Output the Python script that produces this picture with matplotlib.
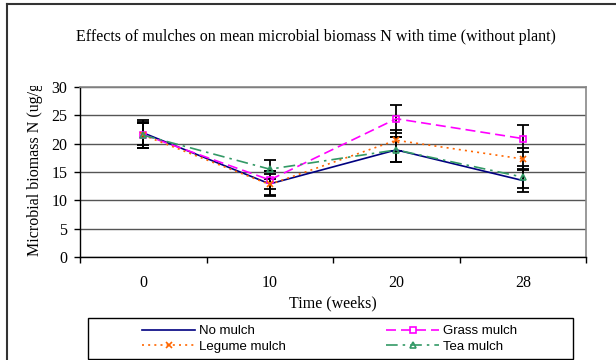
import matplotlib
matplotlib.use("Agg")
import matplotlib.pyplot as plt
from matplotlib.lines import Line2D
from matplotlib.patches import Rectangle
from matplotlib.transforms import Bbox, TransformedBbox

weeks = ["0", "10", "20", "28"]
no_mulch = [21.9, 12.9, 18.9, 13.5]
grass = [21.6, 13.6, 24.4, 20.9]
legume = [21.5, 12.8, 20.6, 17.3]
tea = [21.5, 15.5, 18.9, 14.1]
no_mulch_err = [2.2, 2.2, 2.2, 2.1]
grass_err = [2.3, 1.6, 2.5, 2.4]
legume_err = [2.2, 1.9, 1.9, 1.9]
tea_err = [2.2, 1.7, 2.2, 1.9]
yticks = [0, 5, 10, 15, 20, 25, 30]

serif = "Liberation Serif"
sans = "Liberation Sans"

fig = plt.figure(figsize=(6.16, 3.6), dpi=100)
ax = fig.add_axes([80/616, 1-257/360, 506/616, 170/360])

x = list(range(len(weeks)))
series = [
    ("No mulch", no_mulch, no_mulch_err, "#000080", "-", None, None),
    ("Grass mulch", grass, grass_err, "#FF00FF", (0, (6, 3)), "s", "none"),
    ("Legume mulch", legume, legume_err, "#FF6600", (0, (1.2, 2.5)), "x", None),
    ("Tea mulch", tea, tea_err, "#339966", (0, (7, 3, 1.5, 3)), "^", "none"),
]
handles = {}
for name, vals, err, col, ls, mk, mfc in series:
    ax.errorbar(x, vals, yerr=err, fmt="none", ecolor="black", elinewidth=1.3,
                capsize=4, capthick=1.3, zorder=3)
for name, vals, err, col, ls, mk, mfc in series:
    kw = dict(color=col, linestyle=ls, linewidth=1.2, zorder=4)
    if mk:
        kw.update(marker=mk, markersize=5, markeredgecolor=col, markeredgewidth=1.2)
        if mfc:
            kw.update(markerfacecolor=mfc)
    ax.plot(x, vals, **kw)
    handles[name] = Line2D([], [], **kw)

ax.set_xlim(-0.5, len(weeks) - 0.5)
ax.set_ylim(0, 30)
ax.set_yticks(yticks)
ax.set_yticklabels([str(v) for v in yticks], fontfamily=serif, fontsize=11.5)
ax.set_xticks(x)
ax.set_xticklabels(weeks, fontfamily=serif, fontsize=11.5)
ax.set_xticks([i - 0.5 for i in range(len(weeks) + 1)], minor=True)
ax.tick_params(axis="x", which="major", length=0, pad=13)
ax.tick_params(axis="x", which="minor", length=4, width=1, direction="out")
ax.tick_params(axis="y", length=4, width=1, direction="out", pad=5)
ax.yaxis.grid(True, color="#555555", linewidth=1.0)
ax.set_axisbelow(True)
for s in ["top", "right"]:
    ax.spines[s].set_color("#888888")
    ax.spines[s].set_linewidth(1.2)
for s in ["left", "bottom"]:
    ax.spines[s].set_color("black")
    ax.spines[s].set_linewidth(1.0)

ax.set_xlabel("Time (weeks)", fontfamily=serif, fontsize=11.5, labelpad=3)
yl = fig.text(35/616, 1-167/360, "Microbial biomass N (ug/g)", rotation=90,
              fontfamily=serif, fontsize=11.5, ha="center", va="center")
yl.set_clip_box(TransformedBbox(Bbox([[0, 0], [80/616, 1-86/360]]), fig.transFigure))
yl.set_clip_on(True)
fig.text(316/616, 1-37/360,
         "Effects of mulches on mean microbial biomass N with time (without plant)",
         fontfamily=serif, fontsize=11.5, ha="center", va="center")

# outer frame
fig.add_artist(Line2D([7/616, 7/616], [0, 1-4/360], transform=fig.transFigure,
                      color="#333333", linewidth=1.5))
fig.add_artist(Line2D([7/616, 1], [1-4/360, 1-4/360], transform=fig.transFigure,
                      color="#333333", linewidth=1.5))

# legend box
fig.add_artist(Rectangle((88/616, 1/360), 485/616, 41/360, transform=fig.transFigure,
                         fill=False, edgecolor="black", linewidth=1.0))
order = ["No mulch", "Legume mulch", "Grass mulch", "Tea mulch"]
fig.legend(handles=[handles[n] for n in order], labels=order, ncol=2,
           loc="upper left", bbox_to_anchor=(133/616, 1-316/360),
           frameon=False, prop={"family": sans, "size": 9.5},
           handlelength=4.0, handletextpad=0.3, columnspacing=7.6,
           labelspacing=0.25, borderpad=0.2)

fig.savefig("out.png", dpi=100)
